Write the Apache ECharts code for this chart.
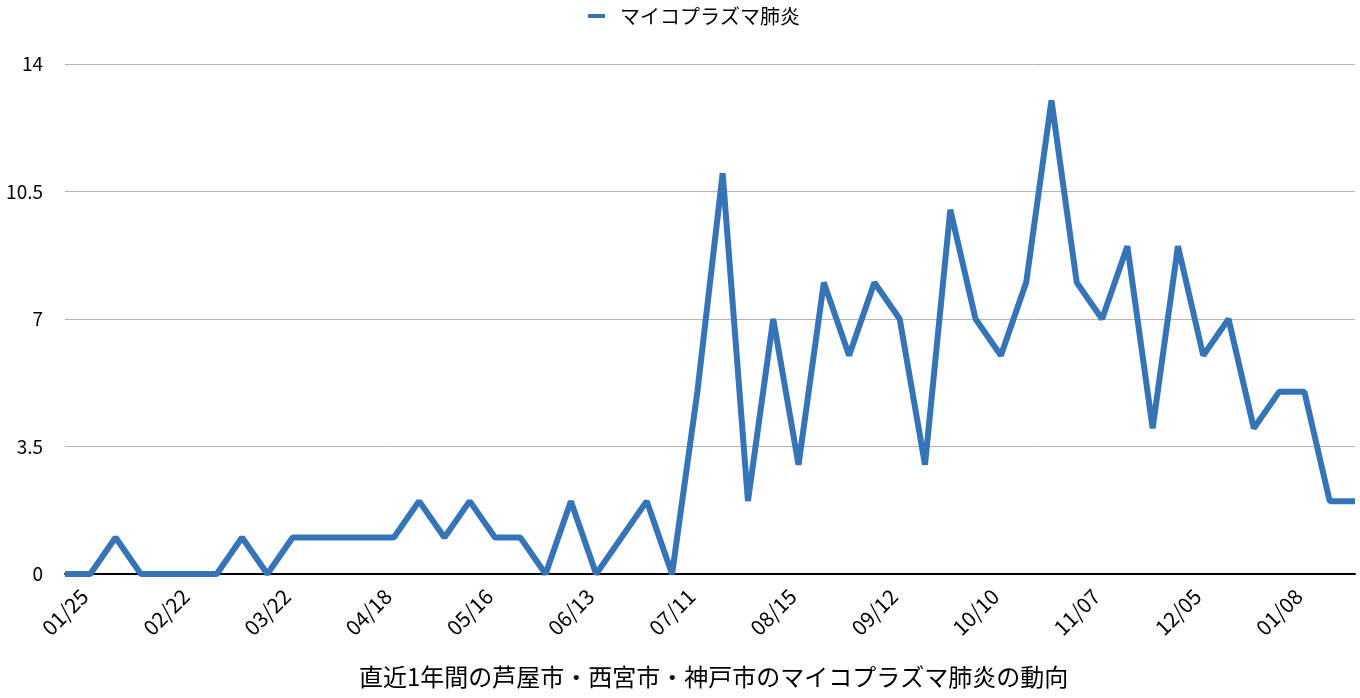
<!DOCTYPE html>
<html><head><meta charset="utf-8">
<script src="https://cdn.jsdelivr.net/npm/echarts@6/dist/echarts.min.js"></script>
<style>html,body{margin:0;padding:0;background:#fff}#c{width:1360px;height:698px}</style>
</head><body><div id="c"></div>
<script>
const categories = ["01/25","02/01","02/08","02/15","02/22","03/01","03/08","03/15","03/22","03/29","04/04","04/11","04/18","04/25","05/02","05/09","05/16","05/23","05/30","06/06","06/13","06/20","06/27","07/04","07/11","07/18","07/25","08/01","08/15","08/22","08/29","09/05","09/12","09/19","09/26","10/03","10/10","10/17","10/24","10/31","11/07","11/14","11/21","11/28","12/05","12/12","12/19","12/26","01/08","01/15","01/22","01/29"];
const seriesName = "マイコプラズマ肺炎";
const values = [0,0,1,0,0,0,0,1,0,1,1,1,1,1,2,1,2,1,1,0,2,0,1,2,0,5,11,2,7,3,8,6,8,7,3,10,7,6,8,13,8,7,9,4,9,6,7,4,5,5,2,2];
const yTicks = [0,3.5,7,10.5,14];
const titleText = "直近1年間の芦屋市・西宮市・神戸市のマイコプラズマ肺炎の動向";
const font = "'Noto Sans CJK JP', sans-serif";
const chart = echarts.init(document.getElementById('c'));
chart.setOption({
  animation:false,
  title:{text:titleText,left:354,bottom:4,textStyle:{fontFamily:font,fontSize:24,fontWeight:'normal',color:'#000'}},
  legend:{top:1,left:583,itemWidth:17,itemHeight:4,icon:'rect',itemGap:10,
    textStyle:{fontFamily:font,fontSize:20,color:'#000',padding:[0,0,0,10]},data:[seriesName]},
  grid:{left:65,right:5,top:64,bottom:124},
  xAxis:{type:'category',data:categories,boundaryGap:false,
    axisLine:{lineStyle:{color:'#000',width:2}},axisTick:{show:false},
    axisLabel:{interval:3,rotate:45,align:'center',verticalAlign:'middle',margin:38,
      fontFamily:font,fontSize:21,color:'#000'}},
  yAxis:{type:'value',min:yTicks[0],max:yTicks[yTicks.length-1],interval:3.5,
    axisLine:{show:false},axisTick:{show:false},
    axisLabel:{margin:22,fontFamily:font,fontSize:19,color:'#000'},
    splitLine:{lineStyle:{color:'#b4b4b4',width:1}}},
  series:[{name:seriesName,type:'line',data:values,symbol:'none',
    lineStyle:{color:'#3574b6',width:6,join:'bevel',cap:'butt'},itemStyle:{color:'#3574b6'}}]
});
</script></body></html>
